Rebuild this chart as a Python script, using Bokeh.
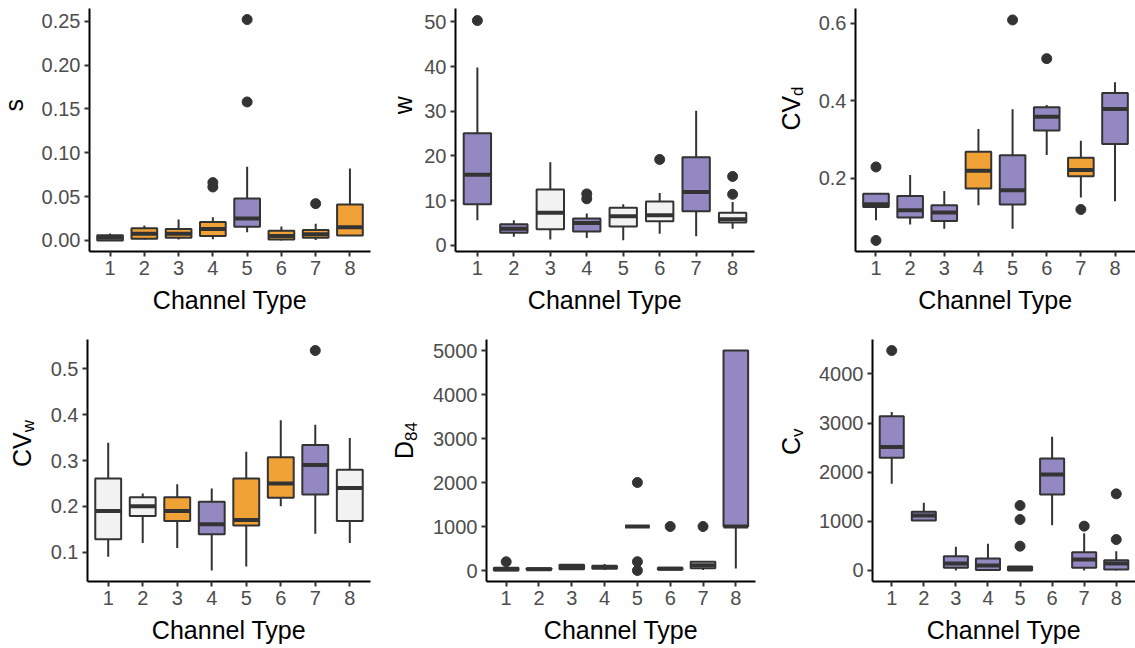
import math
from bokeh.plotting import figure
from bokeh.layouts import column, row
from bokeh.models import Range1d, FixedTicker, PrintfTickFormatter, ColumnDataSource
from bokeh.core.properties import value
from bokeh.embed import file_html
from bokeh.resources import INLINE

channel_types = [1, 2, 3, 4, 5, 6, 7, 8]
x_ticks = [1, 2, 3, 4, 5, 6, 7, 8]

PURPLE = "#9388C1"
ORANGE = "#F0A236"
LIGHT = "#F2F2F2"
DARK = "#333333"
FILLS = {"P": PURPLE, "O": ORANGE, "W": LIGHT}

# ---- s ----
s_lo = [0.000, 0.001, 0.001, 0.0015, 0.0095, 0.000, 0.0005, 0.005]
s_q1 = [0.000, 0.002, 0.003, 0.005, 0.0155, 0.001, 0.003, 0.0057]
s_med = [0.003, 0.0076, 0.0076, 0.013, 0.025, 0.005, 0.007, 0.015]
s_q3 = [0.006, 0.014, 0.013, 0.021, 0.048, 0.011, 0.012, 0.041]
s_hi = [0.008, 0.017, 0.024, 0.0266, 0.084, 0.016, 0.019, 0.082]
s_fill = ["W", "O", "O", "O", "P", "O", "O", "O"]
s_out_x = [4, 4, 5, 5, 7]
s_out_y = [0.061, 0.066, 0.158, 0.252, 0.042]
s_ticks = [0.00, 0.05, 0.10, 0.15, 0.20, 0.25]

# ---- w ----
w_lo = [5.6, 1.9, 1.3, 1.6, 1.1, 2.6, 2.0, 3.7]
w_q1 = [9.15, 2.8, 3.6, 3.1, 4.2, 5.4, 7.6, 5.1]
w_med = [15.8, 3.7, 7.3, 5.0, 6.5, 6.7, 11.9, 5.8]
w_q3 = [25.1, 4.7, 12.5, 6.0, 8.4, 9.8, 19.7, 7.3]
w_hi = [39.8, 5.6, 18.6, 7.1, 9.2, 11.7, 30.1, 9.7]
w_fill = ["P", "P", "W", "P", "W", "W", "P", "W"]
w_out_x = [1, 4, 4, 6, 8, 8]
w_out_y = [50.3, 10.4, 11.5, 19.2, 11.4, 15.4]
w_ticks = [0, 10, 20, 30, 40, 50]

# ---- CV_d ----
cvd_lo = [0.091, 0.080, 0.069, 0.130, 0.069, 0.260, 0.150, 0.140]
cvd_q1 = [0.1255, 0.098, 0.089, 0.173, 0.132, 0.323, 0.205, 0.288]
cvd_med = [0.1325, 0.117, 0.111, 0.219, 0.169, 0.359, 0.221, 0.379]
cvd_q3 = [0.160, 0.154, 0.130, 0.268, 0.259, 0.383, 0.253, 0.420]
cvd_hi = [0.160, 0.208, 0.167, 0.327, 0.378, 0.389, 0.297, 0.448]
cvd_fill = ["P", "P", "P", "O", "P", "P", "O", "P"]
cvd_out_x = [1, 1, 5, 6, 7]
cvd_out_y = [0.229, 0.039, 0.609, 0.509, 0.119]
cvd_ticks = [0.2, 0.4, 0.6]

# ---- CV_w ----
cvw_lo = [0.090, 0.120, 0.109, 0.060, 0.069, 0.200, 0.140, 0.120]
cvw_q1 = [0.128, 0.179, 0.168, 0.139, 0.158, 0.219, 0.226, 0.168]
cvw_med = [0.190, 0.200, 0.190, 0.161, 0.170, 0.250, 0.290, 0.240]
cvw_q3 = [0.261, 0.220, 0.220, 0.210, 0.261, 0.307, 0.334, 0.280]
cvw_hi = [0.339, 0.228, 0.248, 0.239, 0.319, 0.388, 0.378, 0.349]
cvw_fill = ["W", "W", "O", "P", "O", "O", "P", "W"]
cvw_out_x = [7]
cvw_out_y = [0.540]
cvw_ticks = [0.1, 0.2, 0.3, 0.4, 0.5]

# ---- D84 ----
d84_lo = [0, 10, 10, 10, 1000, 20, 10, 45]
d84_q1 = [0, 10, 30, 40, 1000, 20, 50, 1000]
d84_med = [30, 30, 80, 80, 1000, 40, 120, 1000]
d84_q3 = [60, 50, 130, 110, 1000, 60, 200, 5000]
d84_hi = [60, 50, 150, 150, 1000, 60, 200, 5000]
d84_fill = ["W", "W", "W", "W", "W", "W", "W", "P"]
d84_out_x = [1, 5, 5, 5, 6, 7]
d84_out_y = [198, 2000, 200, 0, 1000, 1000]
d84_ticks = [0, 1000, 2000, 3000, 4000, 5000]

# ---- C_v ----
cv_lo = [1763, 1017, 0, 0, 0, 922, 0, 0]
cv_q1 = [2292, 1017, 54, 10, 0, 1546, 54, 20]
cv_med = [2515, 1119, 142, 100, 40, 1953, 224, 142]
cv_q3 = [3139, 1193, 292, 244, 80, 2278, 373, 210]
cv_hi = [3227, 1376, 481, 542, 80, 2719, 760, 393]
cv_fill = ["P", "P", "P", "P", "P", "P", "P", "P"]
cv_out_x = [1, 5, 5, 5, 7, 8, 8]
cv_out_y = [4475, 1322, 1037, 495, 902, 630, 1559]
cv_ticks = [0, 1000, 2000, 3000, 4000]

FONT = "Liberation Sans"
MAIN_SIZE = 25
SUB_SIZE = 17


def char_w(s, size):
    widths = {"C": 0.722, "V": 0.667, "D": 0.722, "d": 0.556, "w": 0.722,
              "v": 0.5, "8": 0.556, "4": 0.556, "s": 0.5}
    return sum(widths.get(c, 0.556) for c in s) * size


def label_fig(lw, height, top, bottom, cx, main, sub):
    """Narrow figure holding the rotated y-axis title (with optional subscript)."""
    lf = figure(width=lw, height=height, output_backend="svg", toolbar_location=None,
                x_range=Range1d(0, lw), y_range=Range1d(0, height),
                min_border_left=0, min_border_right=0, min_border_top=0,
                min_border_bottom=0)
    lf.axis.visible = False
    lf.xgrid.visible = False
    lf.ygrid.visible = False
    lf.outline_line_color = None
    fh = height - top - bottom
    cy = bottom + fh / 2
    if sub is None:
        lf.text(x=[cx], y=[cy], text=[main], angle=math.pi / 2, text_align="center",
                text_baseline="middle", text_font=value(FONT),
                text_font_size=value(f"{MAIN_SIZE}px"), text_color="black")
    else:
        wm = char_w(main, MAIN_SIZE)
        ws = char_w(sub, SUB_SIZE)
        y0 = cy - (wm + ws) / 2 + wm
        lf.text(x=[cx], y=[y0], text=[main], angle=math.pi / 2, text_align="right",
                text_baseline="middle", text_font=value(FONT),
                text_font_size=value(f"{MAIN_SIZE}px"), text_color="black")
        lf.text(x=[cx + 7], y=[y0], text=[sub], angle=math.pi / 2, text_align="left",
                text_baseline="middle", text_font=value(FONT),
                text_font_size=value(f"{SUB_SIZE}px"), text_color="black")
    return lf


def panel(lo, q1, med, q3, hi, fill, ox, oy, yr, ticks, fmt,
          width, height, left, right, top, bottom):
    p = figure(width=width, height=height, output_backend="svg", toolbar_location=None,
               x_range=Range1d(0.4, 8.6), y_range=Range1d(*yr),
               min_border_left=left, min_border_right=right,
               min_border_top=top, min_border_bottom=bottom)
    p.outline_line_color = None
    p.xgrid.visible = False
    p.ygrid.visible = False
    src = ColumnDataSource(dict(
        x=channel_types, lo=lo, q1=q1, med=med, q3=q3, hi=hi,
        x0=[c - 0.375 for c in channel_types], x1=[c + 0.375 for c in channel_types],
        fill=[FILLS[f] for f in fill]))
    p.segment(x0="x", y0="q3", x1="x", y1="hi", source=src, line_color=DARK, line_width=2)
    p.segment(x0="x", y0="q1", x1="x", y1="lo", source=src, line_color=DARK, line_width=2)
    p.vbar(x="x", width=0.75, bottom="q1", top="q3", source=src, fill_color="fill",
           line_color=DARK, line_width=2)
    p.segment(x0="x0", y0="med", x1="x1", y1="med", source=src, line_color=DARK,
              line_width=4)
    p.scatter(x=ox, y=oy, size=10, fill_color=DARK, line_color=DARK)

    for ax in (p.xaxis[0], p.yaxis[0]):
        ax.axis_line_color = "black"
        ax.axis_line_width = 2
        ax.major_tick_line_color = DARK
        ax.major_tick_line_width = 2
        ax.major_tick_out = 5
        ax.major_tick_in = 0
        ax.minor_tick_line_color = None
        ax.major_label_text_font = FONT
        ax.major_label_text_font_size = "20px"
        ax.major_label_text_color = "#4D4D4D"
        ax.major_label_standoff = 4
    p.xaxis.ticker = FixedTicker(ticks=x_ticks)
    p.yaxis.ticker = FixedTicker(ticks=ticks)
    p.yaxis.formatter = PrintfTickFormatter(format=fmt)
    p.xaxis.axis_label = "Channel Type"
    p.xaxis.axis_label_text_font = FONT
    p.xaxis.axis_label_text_font_size = "25px"
    p.xaxis.axis_label_text_font_style = "normal"
    p.xaxis.axis_label_text_color = "black"
    p.xaxis.axis_label_standoff = 8
    return p


# top row: height 325, frame top 8, bottom border 74
# bottom row: height 323, frame top 14, bottom border 67
l1 = label_fig(30, 325, 8, 74, 13, "s", None)
p1 = panel(s_lo, s_q1, s_med, s_q3, s_hi, s_fill, s_out_x, s_out_y,
           (-0.0126, 0.2646), s_ticks, "%.2f", 345, 325, 59, 5, 8, 74)
l2 = label_fig(42, 325, 8, 74, 27, "w", None)
p2 = panel(w_lo, w_q1, w_med, w_q3, w_hi, w_fill, w_out_x, w_out_y,
           (-1.4, 53.0), w_ticks, "%d", 340, 325, 38, 3, 8, 74)
l3 = label_fig(54, 325, 8, 74, 33, "CV", "d")
p3 = panel(cvd_lo, cvd_q1, cvd_med, cvd_q3, cvd_hi, cvd_fill, cvd_out_x, cvd_out_y,
           (0.0104, 0.6386), cvd_ticks, "%.1f", 324, 325, 44, 0, 8, 74)

l4 = label_fig(42, 323, 14, 67, 21, "CV", "w")
p4 = panel(cvw_lo, cvw_q1, cvw_med, cvw_q3, cvw_hi, cvw_fill, cvw_out_x, cvw_out_y,
           (0.036, 0.564), cvw_ticks, "%.1f", 333, 323, 45, 5, 14, 67)
l5 = label_fig(52, 323, 14, 67, 28, "D", "84")
p5 = panel(d84_lo, d84_q1, d84_med, d84_q3, d84_hi, d84_fill, d84_out_x, d84_out_y,
           (-250, 5250), d84_ticks, "%d", 330, 323, 59, 2, 14, 67)
l6 = label_fig(54, 323, 14, 67, 33, "C", "v")
p6 = panel(cv_lo, cv_q1, cv_med, cv_q3, cv_hi, cv_fill, cv_out_x, cv_out_y,
           (-224, 4700), cv_ticks, "%d", 324, 323, 61, 0, 14, 67)

layout = column(row(l1, p1, l2, p2, l3, p3), row(l4, p4, l5, p5, l6, p6))
open("out.html", "w").write(file_html(layout, INLINE))
